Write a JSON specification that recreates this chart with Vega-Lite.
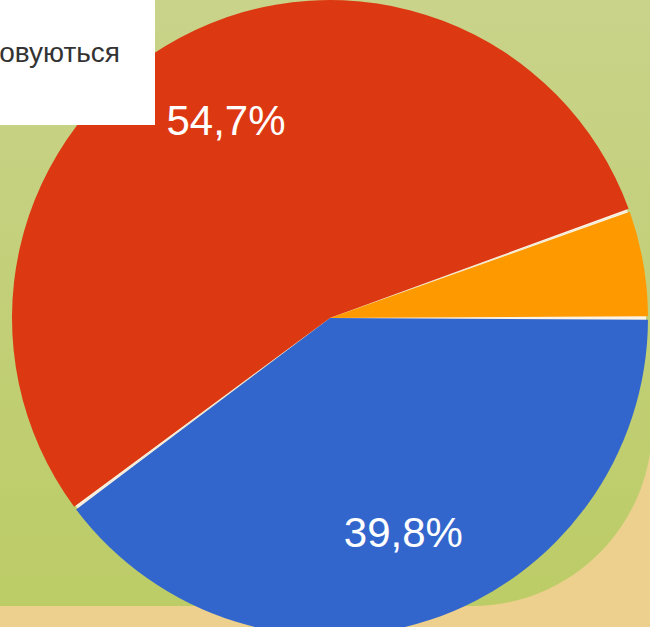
{
  "$schema": "https://vega.github.io/schema/vega-lite/v6.json",
  "width": 852,
  "height": 806,
  "autosize": {"type": "none"},
  "padding": {"left": -200, "top": -200, "right": -2, "bottom": 21},
  "background": "#edd08e",
  "view": {
    "stroke": null,
    "cornerRadius": 180,
    "fill": {
      "gradient": "linear",
      "x1": 0, "y1": 0, "x2": 0, "y2": 1,
      "stops": [
        {"offset": 0.25, "color": "#c9d38a"},
        {"offset": 1, "color": "#bccc66"}
      ]
    }
  },
  "data": {
    "values": [
      {"category": "Використовуються", "value": 39.8, "label": "39,8%", "ord": 1},
      {"category": "Не використовуються", "value": 54.7, "label": "54,7%", "ord": 2},
      {"category": "Інше", "value": 5.5, "label": "", "ord": 3}
    ]
  },
  "encoding": {
    "theta": {"field": "value", "type": "quantitative", "stack": true, "scale": {"range": [1.5708, 7.854]}},
    "order": {"field": "ord", "type": "quantitative"}
  },
  "layer": [
    {
      "mark": {"type": "arc", "outerRadius": 316, "fill": "#fbf3e6", "xOffset": 104, "yOffset": 115},
      "encoding": {
        "detail": {"field": "category", "type": "nominal"}
      }
    },
    {
      "mark": {"type": "arc", "outerRadius": 318, "padAngle": 0.0105, "xOffset": 104, "yOffset": 115},
      "encoding": {
        "color": {
          "field": "category",
          "type": "nominal",
          "scale": {
            "domain": ["Використовуються", "Не використовуються", "Інше"],
            "range": ["#3366cc", "#dc3912", "#ff9900"]
          },
          "legend": {
            "orient": "none",
            "legendX": -32,
            "legendY": 183,
            "values": ["Використовуються"],
            "title": null,
            "fillColor": "#ffffff",
            "padding": 35,
            "labelFontSize": 28,
            "labelLimit": 0,
            "labelFont": "Liberation Sans",
            "labelColor": "#333333",
            "symbolSize": 5184,
            "symbolOpacity": 0,
            "symbolStrokeWidth": 0
          }
        }
      }
    },
    {
      "mark": {"type": "text", "radius": 225, "fill": "#ffffff", "fontSize": 42, "font": "Liberation Sans", "align": "center", "baseline": "middle", "xOffset": 106.5, "yOffset": 117},
      "encoding": {
        "text": {"field": "label", "type": "nominal"},
        "detail": {"field": "category", "type": "nominal"}
      }
    }
  ]
}
